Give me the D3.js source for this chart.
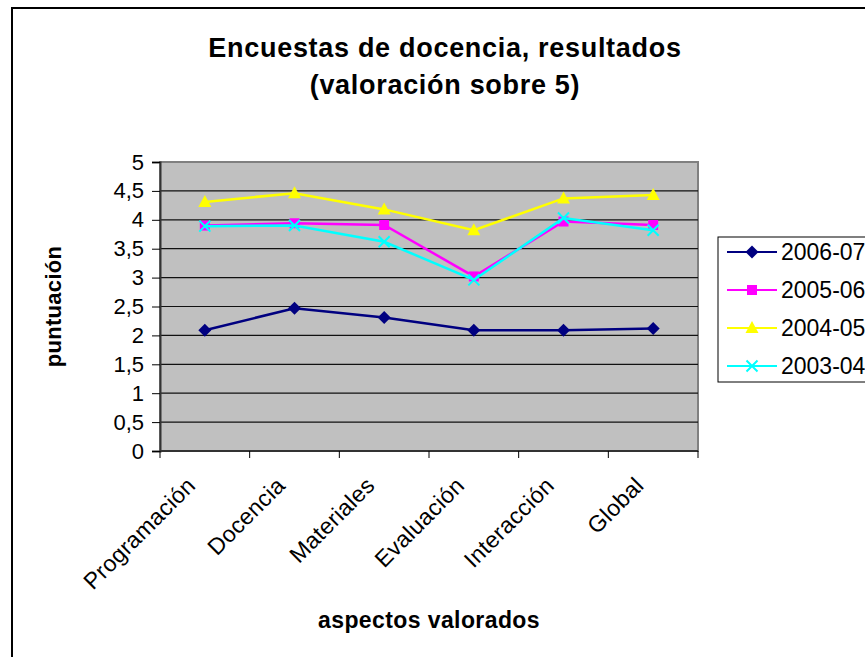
<!DOCTYPE html>
<html lang="es">

<head>
    <meta charset="UTF-8">
    <title>Encuestas de docencia</title>
    <script src="https://d3js.org/d3.v7.min.js"></script>
    <style>
        body { margin: 0; background: #fff; }
        text { font-family: "Liberation Sans", Arial, sans-serif; fill: #000; }
    </style>
</head>

<body>
    <script>
        var w = 865;
        var h = 657;

        // data
        var categories = ["Programación", "Docencia", "Materiales", "Evaluación", "Interacción", "Global"];
        var seriesNames = ["2006-07", "2005-06", "2004-05", "2003-04"];
        var v0607 = [2.09, 2.47, 2.31, 2.09, 2.09, 2.12];
        var v0506 = [3.90, 3.94, 3.91, 3.02, 3.97, 3.91];
        var v0405 = [4.31, 4.46, 4.18, 3.82, 4.37, 4.43];
        var v0304 = [3.89, 3.90, 3.62, 2.96, 4.03, 3.82];
        var yTicks = [0, 0.5, 1, 1.5, 2, 2.5, 3, 3.5, 4, 4.5, 5];

        var colors = ["#000080", "#FF00FF", "#FFFF00", "#00FFFF"];
        var markers = ["diamond", "square", "triangle", "cross"];
        var allValues = [v0607, v0506, v0405, v0304];

        var series = seriesNames.map(function (name, i) {
            return { name: name, values: allValues[i], color: colors[i], marker: markers[i] };
        });

        // plot area (note: "top" is reserved on window, so use other names)
        var plotL = 160, plotR = 698, plotT = 162, plotB = 451;

        var xScale = d3.scaleBand()
            .domain(categories)
            .range([plotL, plotR])
            .padding(0);

        var yScale = d3.scaleLinear()
            .domain([0, 5])
            .range([plotB, plotT]);

        var esFormat = d3.formatLocale({ decimal: ",", thousands: ".", grouping: [3], currency: ["", "€"] }).format(".1~f");

        var svg = d3.select("body")
            .append("svg")
            .attr("width", w)
            .attr("height", h);

        // outer chart border
        svg.append("rect")
            .attr("x", 12)
            .attr("y", 8)
            .attr("width", 880)
            .attr("height", 680)
            .attr("fill", "#fff")
            .attr("stroke", "#000")
            .attr("stroke-width", 2);

        // title
        var title = svg.append("text")
            .attr("text-anchor", "middle")
            .attr("font-size", "27px")
            .attr("font-weight", "bold")
            .attr("letter-spacing", "0.7px");
        title.append("tspan").attr("x", 445).attr("y", 57).text("Encuestas de docencia, resultados");
        title.append("tspan").attr("x", 445).attr("y", 94).text("(valoración sobre 5)");

        // plot background
        svg.append("rect")
            .attr("x", plotL)
            .attr("y", plotT)
            .attr("width", plotR - plotL)
            .attr("height", plotB - plotT)
            .attr("fill", "#C0C0C0")
            .attr("stroke", "#808080")
            .attr("stroke-width", 2);

        // gridlines
        svg.append("g")
            .selectAll("line")
            .data(yTicks.filter(function (d) { return d > 0 && d < 5; }))
            .enter()
            .append("line")
            .attr("x1", plotL)
            .attr("x2", plotR)
            .attr("y1", function (d) { return yScale(d); })
            .attr("y2", function (d) { return yScale(d); })
            .attr("stroke", "#111")
            .attr("stroke-width", 1.2);

        // y axis
        var yAxis = d3.axisLeft(yScale)
            .tickValues(yTicks)
            .tickFormat(esFormat)
            .tickSize(8)
            .tickPadding(8);

        var gy = svg.append("g")
            .attr("transform", "translate(" + plotL + ",0)")
            .call(yAxis);
        gy.select(".domain").attr("stroke", "#333").attr("stroke-width", 2);
        gy.selectAll(".tick line").attr("stroke", "#000");
        gy.selectAll("text")
            .attr("font-family", "Liberation Sans, Arial, sans-serif")
            .attr("font-size", "22px")
            .attr("fill", "#000");

        // x axis: ticks between categories
        var boundaries = categories.map(function (c) { return xScale(c); }).concat([plotR]);
        var gx = svg.append("g");
        gx.append("line")
            .attr("x1", plotL)
            .attr("x2", plotR)
            .attr("y1", plotB)
            .attr("y2", plotB)
            .attr("stroke", "#333")
            .attr("stroke-width", 2);
        gx.selectAll(".xt")
            .data(boundaries)
            .enter()
            .append("line")
            .attr("class", "xt")
            .attr("x1", function (d) { return d; })
            .attr("x2", function (d) { return d; })
            .attr("y1", plotB)
            .attr("y2", plotB + 7)
            .attr("stroke", "#000");

        gx.selectAll(".xl")
            .data(categories)
            .enter()
            .append("text")
            .attr("class", "xl")
            .attr("text-anchor", "end")
            .attr("font-size", "23px")
            .attr("letter-spacing", "0.3px")
            .attr("transform", function (d) {
                var cx = xScale(d) + xScale.bandwidth() / 2 - 8;
                return "translate(" + cx + "," + (plotB + 36) + ") rotate(-45)";
            })
            .text(function (d) { return d; });

        // axis titles
        svg.append("text")
            .attr("text-anchor", "middle")
            .attr("font-size", "22px")
            .attr("font-weight", "bold")
            .attr("letter-spacing", "0.3px")
            .attr("transform", "translate(61," + ((plotT + plotB) / 2) + ") rotate(-90)")
            .text("puntuación");

        svg.append("text")
            .attr("text-anchor", "middle")
            .attr("x", (plotL + plotR) / 2)
            .attr("y", 628)
            .attr("font-size", "23px")
            .attr("font-weight", "bold")
            .attr("letter-spacing", "0.4px")
            .text("aspectos valorados");

        // marker shapes
        var markerPath = {
            diamond: "M0,-6.5L6.5,0L0,6.5L-6.5,0Z",
            square: "M-5,-5H5V5H-5Z",
            triangle: "M0,-7L6.5,5H-6.5Z",
            cross: "M-5.5,-5.5L5.5,5.5M5.5,-5.5L-5.5,5.5"
        };

        function drawMarker(sel, s) {
            sel.append("path")
                .attr("d", markerPath[s.marker])
                .attr("fill", s.marker === "cross" ? "none" : s.color)
                .attr("stroke", s.color)
                .attr("stroke-width", s.marker === "cross" ? 2 : 0);
        }

        var line = d3.line()
            .x(function (d, i) { return xScale(categories[i]) + xScale.bandwidth() / 2; })
            .y(function (d) { return yScale(d); });

        // lines and markers
        series.forEach(function (s) {
            var g = svg.append("g");
            g.append("path")
                .datum(s.values)
                .attr("d", line)
                .attr("fill", "none")
                .attr("stroke", s.color)
                .attr("stroke-width", 2.5);
            g.selectAll(".pt")
                .data(s.values)
                .enter()
                .append("g")
                .attr("transform", function (d, i) {
                    return "translate(" + (xScale(categories[i]) + xScale.bandwidth() / 2) + "," + yScale(d) + ")";
                })
                .each(function () { drawMarker(d3.select(this), s); });
        });

        // legend
        var legend = svg.append("g");
        legend.append("rect")
            .attr("x", 718)
            .attr("y", 237)
            .attr("width", 170)
            .attr("height", 145)
            .attr("fill", "#fff")
            .attr("stroke", "#000")
            .attr("stroke-width", 1);

        var entries = legend.selectAll(".entry")
            .data(series)
            .enter()
            .append("g")
            .attr("transform", function (d, i) { return "translate(0," + (252 + i * 38) + ")"; });

        entries.append("line")
            .attr("x1", 727)
            .attr("x2", 777)
            .attr("stroke", function (d) { return d.color; })
            .attr("stroke-width", 2);

        entries.append("g")
            .attr("transform", "translate(752,0)")
            .each(function (d) { drawMarker(d3.select(this), d); });

        entries.append("text")
            .attr("x", 781)
            .attr("y", 8)
            .attr("font-size", "23px")
            .text(function (d) { return d.name; });
    </script>
</body>

</html>
